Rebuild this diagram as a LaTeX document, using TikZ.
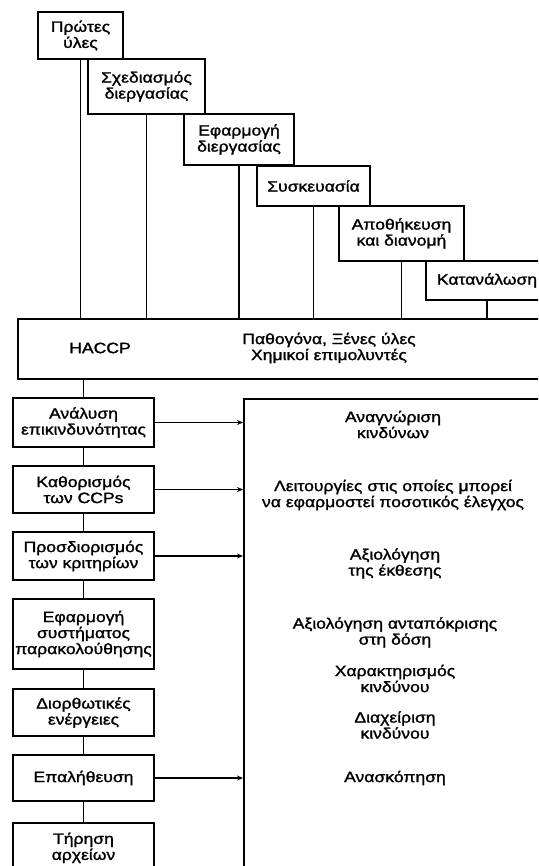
\documentclass[tikz,border=0pt]{standalone}
\usepackage{fontspec}
\setmainfont{Liberation Sans}[FakeStretch=1.17, FakeBold=1.5]
\usetikzlibrary{arrows.meta}
\begin{document}
\begin{tikzpicture}[x=1pt,y=-1pt,
  fnt/.style={font=\fontsize{15}{16}\selectfont},
  box/.style={draw, line width=1.6pt, rectangle, align=center, inner sep=1pt, fnt},
  txt/.style={align=center, inner sep=1pt, fnt},
  conn/.style={line width=1.3pt},
  arr/.style={line width=1.3pt, -{Stealth[length=6pt,width=5pt]}}]
\clip (0,0) rectangle (538,866);
% top cascade
\node[box, minimum width=85pt, minimum height=47pt] (p1) at (80.5,35.5) {Πρώτες\\ύλες};
\node[box, minimum width=117pt, minimum height=55pt] (p2) at (146.5,86.5) {Σχεδιασμός\\διεργασίας};
\node[box, minimum width=110pt, minimum height=51pt] (p3) at (239,139.5) {Εφαρμογή\\διεργασίας};
\node[box, minimum width=113pt, minimum height=40pt] (p4) at (313.5,186) {Συσκευασία};
\node[box, minimum width=125pt, minimum height=55pt] (p5) at (401.5,233.5) {Αποθήκευση\\και διανομή};
\node[box, minimum width=122pt, minimum height=39pt] (p6) at (487,280.5) {Κατανάλωση};
% HACCP band
\node[box, minimum width=560pt, minimum height=60pt, anchor=north west] (haccp) at (17,318) {};
\node[txt] (hl) at (100,348) {HACCP};
\node[txt] (hm) at (329,348) {Παθογόνα, Ξένες ύλες\\Χημικοί επιμολυντές};
\foreach \n in {p1,p2,p3,p4,p5,p6}
  \draw[conn] (\n.south) -- (\n.south |- haccp.north);
% left column
\node[box, minimum width=141pt, minimum height=49pt] (l1) at (83.5,422.5) {Ανάλυση\\επικινδυνότητας};
\node[box, minimum width=141pt, minimum height=47pt] (l2) at (83.5,489.5) {Καθορισμός\\των CCPs};
\node[box, minimum width=141pt, minimum height=48pt] (l3) at (83.5,556) {Προσδιορισμός\\των κριτηρίων};
\node[box, minimum width=141pt, minimum height=70pt] (l4) at (83.5,634) {Εφαρμογή\\συστήματος\\παρακολούθησης};
\node[box, minimum width=141pt, minimum height=47pt] (l5) at (83.5,712.5) {Διορθωτικές\\ενέργειες};
\node[box, minimum width=141pt, minimum height=46pt] (l6) at (83.5,778) {Επαλήθευση};
\node[box, minimum width=141pt, minimum height=50pt, anchor=north] (l7) at (83.5,822) {Τήρηση\\αρχείων};
\draw[conn] (l1.north) -- (l1.north |- haccp.south);
\draw[conn] (l1) -- (l2);
\draw[conn] (l2) -- (l3);
\draw[conn] (l3) -- (l4);
\draw[conn] (l4) -- (l5);
\draw[conn] (l5) -- (l6);
\draw[conn] (l6) -- (l7);
% right panel
\node[draw, line width=1.6pt, minimum width=330pt, minimum height=520pt, anchor=north west] (panel) at (243,398) {};
\foreach \n in {l1,l2,l3,l6}
  \draw[arr] (\n.east) -- (\n.east -| panel.west);
\node[txt] (r1) at (393,424.5) {Αναγνώριση\\κινδύνων};
\node[txt] (r2) at (393,495) {Λειτουργίες στις οποίες μπορεί\\να εφαρμοστεί ποσοτικός έλεγχος};
\node[txt] (r3) at (395,563.5) {Αξιολόγηση\\της έκθεσης};
\node[txt] (r4) at (395,632.5) {Αξιολόγηση ανταπόκρισης\\στη δόση};
\node[txt] (r5) at (395,678.5) {Χαρακτηρισμός\\κινδύνου};
\node[txt] (r6) at (395,725) {Διαχείριση\\κινδύνου};
\node[txt] (r7) at (395,778) {Ανασκόπηση};
\end{tikzpicture}
\end{document}
